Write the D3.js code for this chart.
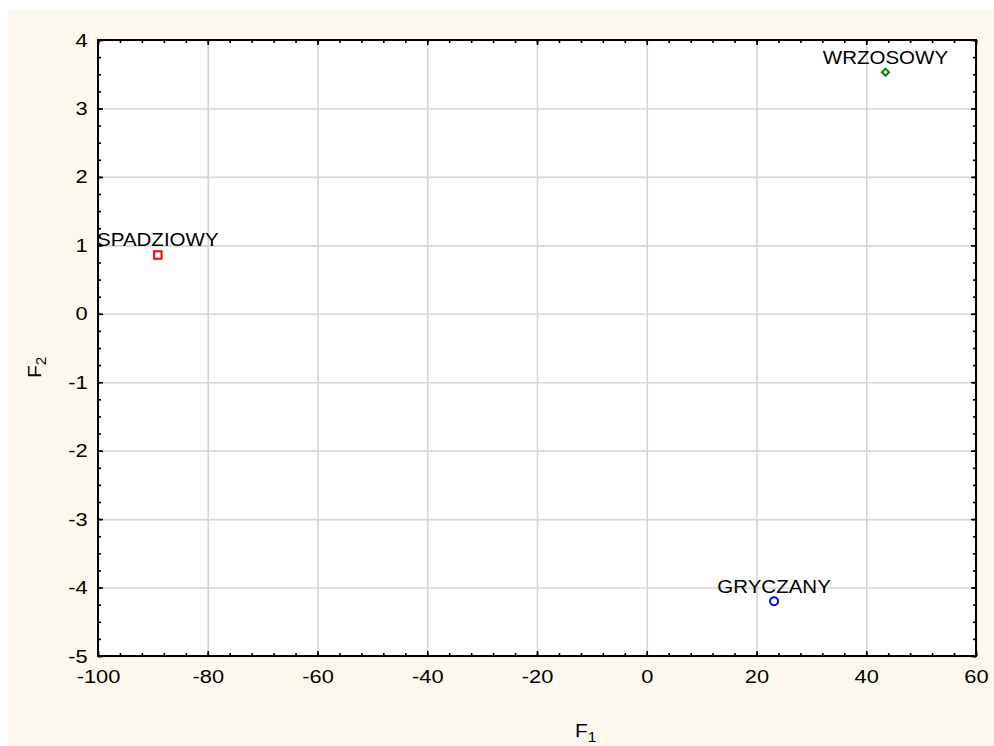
<!DOCTYPE html>
<html>
<head>
<meta charset="utf-8">
<script src="https://cdn.jsdelivr.net/npm/d3@7"></script>
<style>
  html, body { margin: 0; padding: 0; background: #ffffff; }
  svg { display: block; }
  text { font-family: "Liberation Sans", Arial, sans-serif; fill: #000; }
</style>
</head>
<body>
<div id="chart"></div>
<script>
// Honey types on the first two discriminant functions
const categories = ["SPADZIOWY", "WRZOSOWY", "GRYCZANY"];
const f1Values = [-89.1, 43.5, 23.2];
const f2Values = [0.86, 3.53, -4.2];
const markerShapes = ["square", "diamond", "circle"];
const markerColors = ["#ff0000", "#008800", "#0000ff"];

const xTickValues = [-100, -80, -60, -40, -20, 0, 20, 40, 60];
const yTickValues = [-5, -4, -3, -2, -1, 0, 1, 2, 3, 4];
const xMinorValues = d3.range(-100, 60.001, 4);
const yMinorValues = d3.range(-5, 4.001, 0.25);

const W = 994, H = 746;
const plot = { left: 98, top: 40, right: 976, bottom: 656 };
const FONT = "Liberation Sans, Arial, sans-serif";
const hyphenFormat = d => String(d); // plain hyphen-minus for negatives

const svg = d3.select("#chart").append("svg")
  .attr("width", W).attr("height", H);

// cream panel behind the whole graph
svg.append("rect")
  .attr("x", 8).attr("y", 10).attr("width", W - 8).attr("height", H - 10)
  .attr("fill", "#fdf8ee");

svg.append("rect")
  .attr("x", plot.left).attr("y", plot.top)
  .attr("width", plot.right - plot.left).attr("height", plot.bottom - plot.top)
  .attr("fill", "#ffffff");

const x = d3.scaleLinear().domain([-100, 60]).range([plot.left, plot.right]);
const y = d3.scaleLinear().domain([-5, 4]).range([plot.bottom, plot.top]);
const plotW = plot.right - plot.left, plotH = plot.bottom - plot.top;

// grid lines at the major ticks
const grid = svg.append("g").attr("class", "grid");
grid.append("g")
  .attr("transform", `translate(0,${plot.bottom})`)
  .call(d3.axisBottom(x).tickValues(xTickValues).tickSize(-plotH).tickFormat(""))
  .call(g => g.select(".domain").remove());
grid.append("g")
  .attr("transform", `translate(${plot.left},0)`)
  .call(d3.axisLeft(y).tickValues(yTickValues).tickSize(-plotW).tickFormat(""))
  .call(g => g.select(".domain").remove());
grid.selectAll("line").attr("stroke", "#d6d6d6").attr("stroke-width", 1.6);

// inward tick marks on all four sides
function tickLayer(axisFn, scale, values, size, transform) {
  const g = svg.append("g").attr("transform", transform)
    .call(axisFn(scale).tickValues(values).tickSize(size).tickFormat(""));
  g.select(".domain").remove();
  g.selectAll("line").attr("stroke", "#000").attr("stroke-width", 1.6);
  return g;
}
tickLayer(d3.axisBottom, x, xMinorValues, -3, `translate(0,${plot.bottom})`);
tickLayer(d3.axisTop, x, xMinorValues, -3, `translate(0,${plot.top})`);
tickLayer(d3.axisLeft, y, yMinorValues, -3, `translate(${plot.left},0)`);
tickLayer(d3.axisRight, y, yMinorValues, -3, `translate(${plot.right},0)`);
tickLayer(d3.axisBottom, x, xTickValues, -5, `translate(0,${plot.bottom})`);
tickLayer(d3.axisTop, x, xTickValues, -5, `translate(0,${plot.top})`);
tickLayer(d3.axisLeft, y, yTickValues, -5, `translate(${plot.left},0)`);
tickLayer(d3.axisRight, y, yTickValues, -5, `translate(${plot.right},0)`);

// tick labels (slightly widened lettering)
const xAxis = svg.append("g")
  .attr("transform", `translate(0,${plot.bottom})`)
  .call(d3.axisBottom(x).tickValues(xTickValues).tickSize(0).tickPadding(14).tickFormat(hyphenFormat));
xAxis.select(".domain").remove();
xAxis.selectAll("text").attr("font-size", 19).attr("fill", "#000")
  .attr("transform", "scale(1.15,1)")
  .style("font-family", FONT);

const yAxis = svg.append("g")
  .attr("transform", `translate(${plot.left},0)`)
  .call(d3.axisLeft(y).tickValues(yTickValues).tickSize(0).tickPadding(9).tickFormat(hyphenFormat));
yAxis.select(".domain").remove();
yAxis.selectAll("text").attr("font-size", 19).attr("fill", "#000")
  .attr("transform", "scale(1.15,1)")
  .style("font-family", FONT);

// plot frame
svg.append("rect")
  .attr("x", plot.left).attr("y", plot.top)
  .attr("width", plotW).attr("height", plotH)
  .attr("fill", "none").attr("stroke", "#000").attr("stroke-width", 2);

// axis titles with subscripts
const xTitle = svg.append("text")
  .attr("transform", "translate(575,737) scale(1.1,1)").attr("font-size", 19);
xTitle.append("tspan").text("F");
xTitle.append("tspan").attr("font-size", 14).attr("dy", 5).text("1");

const yTitle = svg.append("text")
  .attr("transform", "translate(41,378) rotate(-90) scale(1.1,1)")
  .attr("font-size", 19);
yTitle.append("tspan").text("F");
yTitle.append("tspan").attr("font-size", 14).attr("dy", 5).text("2");

// points
const points = categories.map((name, i) => ({
  name, f1: f1Values[i], f2: f2Values[i], shape: markerShapes[i], color: markerColors[i]
}));

const symbolType = { square: d3.symbolSquare, diamond: d3.symbolSquare, circle: d3.symbolCircle };
const symbolSize = { square: 56, diamond: 26, circle: 50 };
const symbolRotate = { square: 0, diamond: 45, circle: 0 };

const pts = svg.append("g").selectAll("g").data(points).join("g")
  .attr("transform", d => `translate(${x(d.f1)},${y(d.f2)})`);

pts.append("path")
  .attr("d", d => d3.symbol(symbolType[d.shape], symbolSize[d.shape])())
  .attr("transform", d => `rotate(${symbolRotate[d.shape]})`)
  .attr("fill", "none")
  .attr("stroke", d => d.color)
  .attr("stroke-width", 2);

pts.append("text")
  .attr("text-anchor", "middle")
  .attr("y", -8.5)
  .attr("font-size", 19)
  .attr("transform", "scale(1.08,1)")
  .text(d => d.name);
</script>
</body>
</html>
